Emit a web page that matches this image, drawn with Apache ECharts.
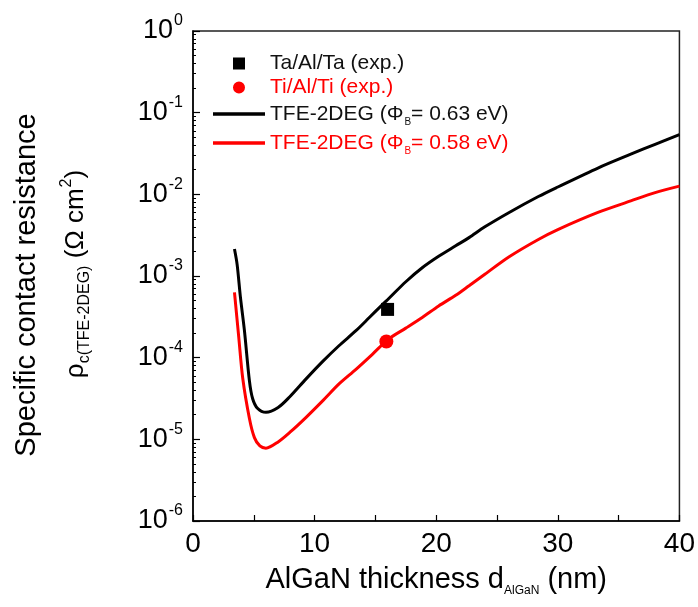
<!DOCTYPE html>
<html>
<head>
<meta charset="utf-8">
<script src="https://cdn.jsdelivr.net/npm/echarts@6/dist/echarts.min.js"></script>
<style>
html,body{margin:0;padding:0;background:#fff;}
#chart{width:698px;height:607px;}
</style>
</head>
<body>
<div id="chart"></div>
<script>
// ---- data ----
const blackX = [3.41, 3.63, 3.9, 4.23, 4.64, 4.9, 5.3, 6.0, 7.0, 7.94, 9.3, 10.67, 12.0, 13.4, 14.5, 15.6, 16.1, 17.5, 18.85, 20.2, 21.6, 22.7, 24, 26, 28.4, 30, 33.3, 36, 38, 40];
const blackY = [2.14e-3, 1.38e-3, 5.5e-4, 2.14e-4, 5.2e-5, 3.16e-5, 2.4e-5, 2.14e-5, 2.45e-5, 3.3e-5, 5.5e-5, 9.0e-5, 1.40e-4, 2.14e-4, 3.1e-4, 4.5e-4, 5.3e-4, 8.5e-4, 1.26e-3, 1.74e-3, 2.34e-3, 2.95e-3, 4.0e-3, 6.0e-3, 9.4e-3, 1.23e-2, 2.1e-2, 3.1e-2, 4.1e-2, 5.4e-2];
const redX = [3.41, 3.76, 4.09, 4.64, 5.05, 5.5, 6.0, 7.0, 8.0, 9.3, 10.7, 12.03, 13.4, 14.75, 16.1, 17.5, 18.85, 20.2, 21.6, 22.7, 24, 26, 28.4, 30, 33.3, 36, 38, 40];
const redY = [6.3e-4, 1.8e-4, 5.6e-5, 1.8e-5, 1.05e-5, 8.3e-6, 7.8e-6, 9.3e-6, 1.23e-5, 1.86e-5, 3.0e-5, 4.8e-5, 7.2e-5, 1.10e-4, 1.70e-4, 2.3e-4, 3.1e-4, 4.3e-4, 5.8e-4, 7.6e-4, 1.05e-3, 1.72e-3, 2.8e-3, 3.7e-3, 6.0e-3, 8.3e-3, 1.05e-2, 1.26e-2];
const taX = [16.0];
const taY = [3.9e-4];
const tiX = [15.9];
const tiY = [1.58e-4];
const seriesNames = ['Ta/Al/Ta (exp.)', 'Ti/Al/Ti (exp.)', 'TFE-2DEG (Φ_B= 0.63 eV)', 'TFE-2DEG (Φ_B= 0.58 eV)'];
const xTicks = [0, 10, 20, 30, 40];

const zip = (xs, ys) => xs.map((x, i) => [x, ys[i]]);
const FONT = 'Liberation Sans, Arial, sans-serif';
const RED = '#ff0000';
// legend icons: marker centred in a wide (52x12) invisible box
const ICON_SQUARE = 'path://M0,0Z M52,12Z M20,0 L32,0 L32,12 L20,12 Z';
const ICON_CIRCLE = 'path://M0,0Z M52,12Z M19.5,6 A6.5,6.5 0 1 1 32.5,6 A6.5,6.5 0 1 1 19.5,6 Z';
const ICON_LINE = 'path://M0,0Z M52,12Z M0,4.3 L52,4.3 L52,7.7 L0,7.7 Z';

const chart = echarts.init(document.getElementById('chart'));
chart.setOption({
  backgroundColor: '#fff',
  animation: false,
  textStyle: { fontFamily: FONT },
  grid: { left: 193, right: 16, top: 31, bottom: 86, show: true, borderColor: '#222', borderWidth: 1.5, containLabel: false },
  xAxis: {
    type: 'value', min: xTicks[0], max: xTicks[xTicks.length - 1], interval: 10,
    axisLine: { show: true, onZero: false, lineStyle: { color: '#000', width: 1.5 } },
    axisTick: { show: true, inside: true, length: 6, lineStyle: { color: '#000', width: 1.2 } },
    minorTick: { show: true, splitNumber: 2, length: 6, lineStyle: { color: '#000', width: 1.2 } },
    splitLine: { show: false },
    axisLabel: { color: '#000', fontSize: 28, margin: 9, fontFamily: FONT },
    name: '{m|AlGaN thickness d}{s|AlGaN}{m| (nm)}',
    nameLocation: 'middle', nameGap: 40,
    nameTextStyle: {
      fontFamily: FONT,
      rich: {
        m: { fontSize: 29, color: '#000', fontFamily: FONT, lineHeight: 32 },
        s: { fontSize: 12, color: '#000', fontFamily: FONT, lineHeight: 12, padding: [22, 0, 0, 0] }
      }
    }
  },
  yAxis: {
    type: 'log', logBase: 10, min: 1e-6, max: 1,
    axisLine: { show: true, lineStyle: { color: '#000', width: 1.5 } },
    axisTick: { show: true, inside: true, length: 7, lineStyle: { color: '#000', width: 1.2 } },
    minorTick: { show: true, splitNumber: 9, length: 3, lineStyle: { color: '#000', width: 1 } },
    splitLine: { show: false },
    axisLabel: {
      margin: 10,
      formatter: v => '{b|10}{s|' + Math.round(Math.log10(v)) + '}',
      rich: {
        b: { fontSize: 27, color: '#000', fontFamily: FONT, lineHeight: 28 },
        s: { fontSize: 16, color: '#000', fontFamily: FONT, lineHeight: 16, padding: [0, 0, 20, 1] }
      }
    }
  },
  legend: {
    orient: 'vertical', left: 208, top: 48, itemWidth: 52, itemHeight: 12, itemGap: 3,
    selectedMode: false,
    textStyle: {
      fontSize: 21, fontFamily: FONT,
      rich: {
        m: { fontSize: 21, fontFamily: FONT, lineHeight: 24 },
        sub: { fontSize: 10, fontFamily: FONT, lineHeight: 10, padding: [16, 0, 0, 1] }
      }
    },
    formatter: name => {
      if (name.indexOf('_B') >= 0) {
        const p = name.split('_B');
        return '{m|' + p[0] + '}{sub|B}{m|' + p[1] + '}';
      }
      return name;
    },
    data: [
      { name: seriesNames[0], icon: ICON_SQUARE, itemStyle: { color: '#000', opacity: 1 }, textStyle: { color: '#111' } },
      { name: seriesNames[1], icon: ICON_CIRCLE, itemStyle: { color: RED, opacity: 1 }, textStyle: { color: RED } },
      { name: seriesNames[2], icon: ICON_LINE, itemStyle: { color: '#000', opacity: 1 }, textStyle: { color: '#111' } },
      { name: seriesNames[3], icon: ICON_LINE, itemStyle: { color: RED, opacity: 1 }, textStyle: { color: RED } }
    ]
  },
  series: [
    {
      name: seriesNames[2], type: 'line', data: zip(blackX, blackY), smooth: 0.3,
      symbol: 'none', showSymbol: false, lineStyle: { color: '#000', width: 3 }, itemStyle: { color: '#000' }, z: 2
    },
    {
      name: seriesNames[3], type: 'line', data: zip(redX, redY), smooth: 0.3,
      symbol: 'none', showSymbol: false, lineStyle: { color: RED, width: 3 }, itemStyle: { color: RED }, z: 2
    },
    {
      name: seriesNames[0], type: 'scatter', data: zip(taX, taY), symbol: 'rect', symbolSize: 13,
      itemStyle: { color: '#000', opacity: 1 }, z: 5
    },
    {
      name: seriesNames[1], type: 'scatter', data: zip(tiX, tiY), symbol: 'circle', symbolSize: 14,
      itemStyle: { color: RED, opacity: 1 }, z: 5
    }
  ],
  graphic: [
    {
      type: 'text', x: 27, y: 285, rotation: Math.PI / 2,
      style: { text: 'Specific contact resistance', font: '29px ' + FONT, fill: '#000', align: 'center', verticalAlign: 'middle' }
    },
    {
      type: 'text', x: 76, y: 274, rotation: Math.PI / 2,
      style: {
        text: '{m|ρ}{sub|c(TFE-2DEG)}{m| (Ω cm}{sup|2}{m|)}',
        align: 'center', verticalAlign: 'middle', fill: '#000',
        rich: {
          m: { fontSize: 26, fontFamily: FONT, fill: '#000', lineHeight: 30 },
          sub: { fontSize: 16, fontFamily: FONT, fill: '#000', lineHeight: 16, padding: [18, 0, 0, 0] },
          sup: { fontSize: 16, fontFamily: FONT, fill: '#000', lineHeight: 16, padding: [0, 0, 18, 1] }
        }
      }
    }
  ]
});
</script>
</body>
</html>
